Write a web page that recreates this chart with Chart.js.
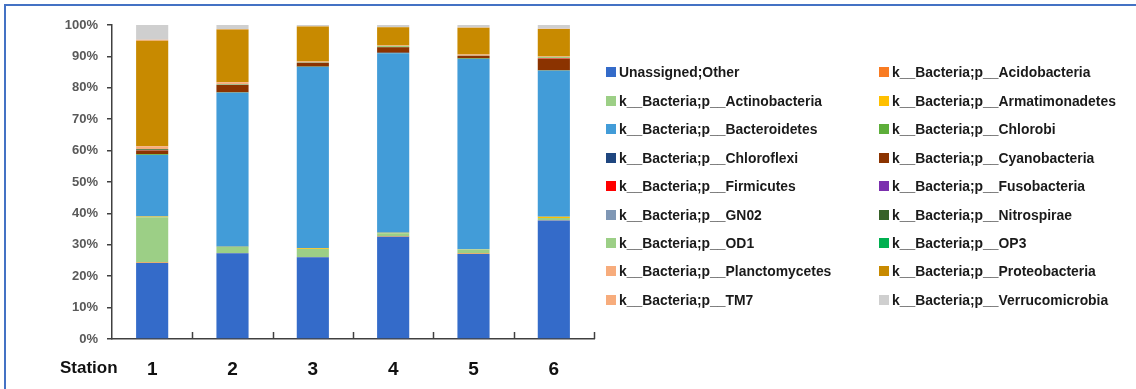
<!DOCTYPE html>
<html>
<head>
<meta charset="utf-8">
<script src="https://cdn.jsdelivr.net/npm/chart.js@4.4.1/dist/chart.umd.min.js"></script>
<style>
  html, body { margin: 0; padding: 0; background: #fff; }
  #wrap { position: relative; width: 1136px; height: 389px; overflow: hidden; background: #fff; }
  #frame { position: absolute; left: 4px; top: 4px; width: 1140px; height: 400px;
           border-top: 2px solid #4472C4; border-left: 2px solid #4472C4; box-sizing: border-box; }
  #chartBox { position: absolute; left: 0; top: 0; width: 1136px; height: 389px; }
  #legend { position: absolute; left: 0; top: 0; width: 1136px; height: 389px; pointer-events: none;
            font: bold 13.9px "Liberation Sans", Arial, sans-serif; color: #1a1a1a; }
  .item { position: absolute; height: 16px; line-height: 16px; white-space: nowrap; }
  .sw { position: absolute; left: 0; top: 3px; width: 10px; height: 10px; }
  .tx { position: absolute; left: 13px; top: 0; }
</style>
</head>
<body>
<div id="wrap">
  <div id="frame"></div>
  <div id="chartBox"><canvas id="c" width="1136" height="389"></canvas></div>
  <div id="legend"></div>
</div>
<script>
// Stations sampled
const stations = ['1', '2', '3', '4', '5', '6'];

// Relative abundance (%) of each phylum per station
const unassigned      = [24.2, 27.3, 26.0, 32.6, 27.1, 37.7];
const acidobacteria   = [0.2, 0.1, 0.1, 0.1, 0.1, 0.1];
const actinobacteria  = [14.4, 1.9, 2.6, 1.0, 1.3, 0.7];
const armatimonadetes = [0.2, 0.1, 0.2, 0.1, 0.1, 0.4];
const bacteroidetes   = [19.6, 49.0, 57.7, 57.2, 60.6, 46.5];
const chlorobi        = [0.2, 0.1, 0.1, 0.1, 0.1, 0.1];
const chloroflexi     = [0.1, 0.1, 0.1, 0.1, 0.1, 0.1];
const cyanobacteria   = [1.1, 2.3, 1.2, 1.7, 0.8, 3.6];
const firmicutes      = [0.1, 0.0, 0.0, 0.0, 0.0, 0.1];
const fusobacteria    = [0.0, 0.0, 0.0, 0.0, 0.0, 0.0];
const gn02            = [0.1, 0.0, 0.0, 0.0, 0.0, 0.0];
const nitrospirae     = [0.2, 0.1, 0.0, 0.1, 0.0, 0.1];
const od1             = [0.1, 0.1, 0.1, 0.3, 0.1, 0.4];
const op3             = [0.0, 0.0, 0.0, 0.0, 0.0, 0.0];
const planctomycetes  = [0.9, 0.7, 0.3, 0.2, 0.3, 0.2];
const proteobacteria  = [33.6, 16.8, 11.1, 5.8, 8.5, 8.7];
const tm7             = [0.3, 0.1, 0.1, 0.1, 0.1, 0.1];
const verrucomicrobia = [4.7, 1.3, 0.4, 0.6, 0.8, 1.2];

// y-axis tick values
const yTicks = [0, 10, 20, 30, 40, 50, 60, 70, 80, 90, 100];

const series = [
  ['Unassigned;Other',                 unassigned,      '#346BC9'],
  ['k__Bacteria;p__Acidobacteria',     acidobacteria,   '#F97B22'],
  ['k__Bacteria;p__Actinobacteria',    actinobacteria,  '#9CCF86'],
  ['k__Bacteria;p__Armatimonadetes',   armatimonadetes, '#FFC000'],
  ['k__Bacteria;p__Bacteroidetes',     bacteroidetes,   '#429CD8'],
  ['k__Bacteria;p__Chlorobi',          chlorobi,        '#5DAE3A'],
  ['k__Bacteria;p__Chloroflexi',       chloroflexi,     '#1F467F'],
  ['k__Bacteria;p__Cyanobacteria',     cyanobacteria,   '#8B3300'],
  ['k__Bacteria;p__Firmicutes',        firmicutes,      '#FF0000'],
  ['k__Bacteria;p__Fusobacteria',      fusobacteria,    '#7B2FAE'],
  ['k__Bacteria;p__GN02',              gn02,            '#7F97B5'],
  ['k__Bacteria;p__Nitrospirae',       nitrospirae,     '#376128'],
  ['k__Bacteria;p__OD1',               od1,             '#9CCF86'],
  ['k__Bacteria;p__OP3',               op3,             '#00B050'],
  ['k__Bacteria;p__Planctomycetes',    planctomycetes,  '#F7AC7C'],
  ['k__Bacteria;p__Proteobacteria',    proteobacteria,  '#C88A00'],
  ['k__Bacteria;p__TM7',               tm7,             '#F7AC7C'],
  ['k__Bacteria;p__Verrucomicrobia',   verrucomicrobia, '#CFCFCF']
];

const datasets = series.map(([label, data, color]) => ({
  label, data, backgroundColor: color, borderWidth: 0,
  barPercentage: 0.4, categoryPercentage: 1.0
}));

const axisFont = '"Liberation Sans", Arial, sans-serif';

// Inward tick marks on the x axis at category boundaries, plus the "Station" caption
const axisExtras = {
  id: 'axisExtras',
  afterDraw(chart) {
    const { ctx, chartArea, scales } = chart;
    const x = scales.x;
    const step = (x.getPixelForValue(1) - x.getPixelForValue(0));
    ctx.save();
    ctx.strokeStyle = '#404040';
    ctx.lineWidth = 1.5;
    for (let i = 0; i < stations.length; i++) {
      const px = Math.round(x.getPixelForValue(i) + step / 2) + 0.5;
      ctx.beginPath();
      ctx.moveTo(px, chartArea.bottom);
      ctx.lineTo(px, chartArea.bottom - 7);
      ctx.stroke();
    }
    ctx.fillStyle = '#111';
    ctx.font = 'bold 17px ' + axisFont;
    ctx.textAlign = 'left';
    ctx.textBaseline = 'middle';
    ctx.fillText('Station', 60, 368);
    ctx.restore();
  }
};

new Chart(document.getElementById('c'), {
  type: 'bar',
  data: { labels: stations, datasets },
  options: {
    responsive: false,
    animation: false,
    layout: { padding: { left: 0, top: 25, right: 542, bottom: 0 } },
    plugins: { legend: { display: false }, tooltip: { enabled: false } },
    scales: {
      x: {
        stacked: true,
        grid: { display: false, drawTicks: false },
        border: { display: true, color: '#404040', width: 1.5 },
        ticks: { padding: 19, color: '#111', font: { family: axisFont, weight: 'bold', size: 19 } },
        afterFit(scale) { scale.height = 50; }
      },
      y: {
        stacked: true,
        min: 0, max: 100,
        afterBuildTicks(scale) { scale.ticks = yTicks.map(v => ({ value: v })); },
        grid: { drawOnChartArea: false, drawTicks: true, tickLength: 5, color: '#404040', lineWidth: 1.5 },
        border: { display: true, color: '#404040', width: 1.5 },
        ticks: { padding: 9, color: '#595959', font: { family: axisFont, weight: 'bold', size: 13 },
                 callback: v => v + '%' },
        afterFit(scale) { scale.width = 112; }
      }
    }
  },
  plugins: [axisExtras]
});

// Legend laid out row by row in two columns
const legend = document.getElementById('legend');
const colX = [606, 879];
series.forEach(([label, , color], i) => {
  const row = Math.floor(i / 2), col = i % 2;
  const el = document.createElement('div');
  el.className = 'item';
  el.style.left = colX[col] + 'px';
  el.style.top = (72.3 + row * 28.45 - 8) + 'px';
  el.innerHTML = '<span class="sw" style="background:' + color + '"></span><span class="tx"></span>';
  el.querySelector('.tx').textContent = label;
  legend.appendChild(el);
});
</script>
</body>
</html>
